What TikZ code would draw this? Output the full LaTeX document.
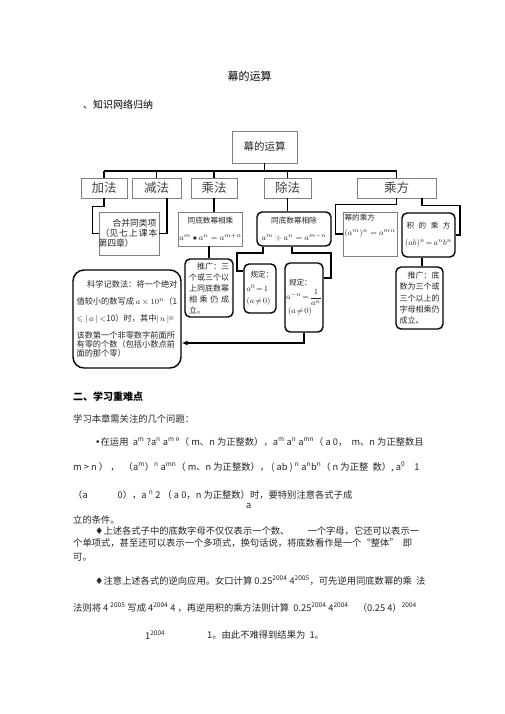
\documentclass[tikz,border=0pt]{standalone}
\usepackage{amsmath,amssymb}
\usepackage{fontspec}
\setmainfont{Noto Sans CJK SC}
\newfontfamily\sym{DejaVu Sans}
\usetikzlibrary{arrows.meta}
\newcommand\bxs{\fontsize{7.6}{9}\selectfont}
\newcommand\fml{\fontsize{8.5}{10.5}\selectfont}
\newcommand\fms{\fontsize{8}{10}\selectfont}
\begin{document}
\begin{tikzpicture}[x=1pt,y=-1pt,
  gbox/.style={draw=black!50, line width=0.8pt, inner sep=1pt, text=black!85},
  rbox/.style={draw=black, line width=1.4pt, rounded corners=5pt, inner sep=1pt, text=black!85},
  lvl/.style={draw=black!50, line width=0.8pt, minimum height=20pt, inner sep=0pt, font=\fontsize{12.5}{14}\selectfont, text=black!75},
  conn/.style={draw=black, line width=1.7pt},
  body/.style={anchor=west, inner sep=0pt, font=\fontsize{9.3}{11}\selectfont, text=black!85},
]
\useasboundingbox[fill=white] (0,0) rectangle (505,714);

% headings
\node[inner sep=0pt, font=\fontsize{11}{13}\selectfont] (title) at (249.5,76) {幕的运算};
\node[anchor=west, inner sep=0pt, font=\fontsize{10}{12}\selectfont] (sec1) at (83,105) {、知识网络归纳};

% top
\node[gbox, minimum width=65pt, minimum height=32pt, font=\fontsize{10.5}{12}\selectfont] (top) at (264.5,147) {幕的运算};

% level 2
\node[lvl, minimum width=46pt] (jiafa) at (104,188) {加法};
\node[lvl, minimum width=49pt] (jianfa) at (156.5,188) {减法};
\node[lvl, minimum width=46pt] (chengfa) at (214,188) {乘法};
\node[lvl, minimum width=47pt] (chufa) at (287.5,188) {除法};
\node[lvl, minimum width=79pt] (chengfang) at (396.5,188) {乘方};

% bus
\coordinate (busy) at (0,171);
\draw[conn] (top.south) -- (top.south |- busy);
\draw[conn] (jiafa.north |- busy) -- (chengfang.north |- busy);
\foreach \n in {jiafa,jianfa,chengfa,chufa,chengfang}
  \draw[conn] (\n.north |- busy) -- (\n.north);

% level 3
\node[gbox, minimum width=60pt, minimum height=43pt, align=left, font=\fontsize{8.8}{10}\selectfont] (hebing) at (129,233.5)
  {\makebox[57pt][r]{合并同类项\hspace{1pt}}\\ \makebox[57pt]{（见\hfill 七\hfill 上\hfill 课\hfill 本}\\ \hspace*{-2pt}第四章）};
\node[gbox, minimum width=63pt, minimum height=34pt, align=center] (tongcheng) at (210.5,229)
  {{\bxs 同底数幂相乘}\\[5pt] {\fml $a^{m}\bullet a^{n}=a^{m+n}$}};
\node[rbox, minimum width=48pt, minimum height=58pt, align=left, font=\fontsize{8}{11}\selectfont] (tg1) at (209,288)
  {\makebox[40pt][r]{推广：三}\\ 个或三个以\\ 上同底数幂\\ \makebox[40pt]{相\hfill 乘\hfill 仍\hfill 成}\\ 立。};
\node[rbox, minimum width=74pt, minimum height=34pt, align=center] (tongchu) at (294,229)
  {{\bxs 同底数幂相除}\\[5pt] {\fml $a^{m}\div a^{n}=a^{m-n}$}};
\node[rbox, minimum width=32pt, minimum height=49pt, align=left] (gd1) at (260,288.5)
  {{\bxs\hspace*{4pt}规定：}\\[2pt] {\fml $a^{0}\!=\!1$}\\ {\fml $(a\!\neq\! 0)$}};
\node[rbox, minimum width=38pt, minimum height=69pt, align=left] (gd2) at (304,297.5)
  {{\bxs\hspace*{3pt}规定：}\\[2pt] {\fms $a^{-n}\!=\!\dfrac{1}{a^{n}}$}\\[2pt] {\fms\hspace*{2pt}$(a\!\neq\! 0)$}};
\node[rbox, rounded corners=11pt, minimum width=108pt, minimum height=98pt, align=left, font=\fontsize{8.2}{9.3}\selectfont] (kexue) at (127,319)
  {\hspace*{1.3em}科学记数法：将一个绝对\\[8pt]
   值较小的数写成 $a\times10^{n}$（1\\[8pt]
   $\leqslant|\,a\,|<$10）时，其中$|\,n\,|$=\\[7pt]
   该数第一个非零数字前面所\\
   有零的个数（包括小数点前\\
   面的那个零）};
\node[gbox, minimum width=54pt, minimum height=44pt, align=left] (mici) at (370,234)
  {{\bxs 幂的乘方}\\[3pt] {\fml $(a^{m})^{n}=a^{mn}$}\\[6pt]};
\node[rbox, minimum width=53pt, minimum height=44pt, align=center] (jici) at (428.5,235)
  {{\bxs\makebox[44pt]{积\hfill 的\hfill 乘\hfill 方}}\\[5pt] {\fml $(ab)^{n}\!=\!a^{n}b^{n}$}};
\node[rbox, minimum width=47pt, minimum height=62pt, align=left, font=\fontsize{8}{11.2}\selectfont] (tg2) at (419.5,298)
  {\makebox[40pt][r]{推广：底}\\ 数为三个或\\ 三个以上的\\ 字母相乘仍\\ 成立。};

% connectors level 2 -> 3
\draw[conn] (jiafa.south) -- ++(0,8) -| ([xshift=-6pt]hebing.west) -- (hebing.west);
\draw[conn] ([xshift=10.5pt]jianfa.south) |- (hebing.east);
\draw[conn] (chengfa.south) -- (chengfa.south |- tongcheng.north);
\draw[conn] (tg1.north |- tongcheng.south) -- (tg1.north);
\draw[conn] (chufa.south) -- (chufa.south |- tongchu.north);
\draw[conn] ([xshift=-31pt]tongchu.south) -- ++(0,6) -| ([xshift=-6pt,yshift=-8pt]gd1.north west) -- ([yshift=-8pt]gd1.north west);
\draw[conn] ([xshift=-2pt]tongchu.south) -- ++(0,6) -| ([xshift=7pt,yshift=-16pt]gd2.north east) -- ([yshift=-16pt]gd2.north east);
\draw[conn, -{Latex[length=6pt,width=5pt]}] (gd2.south) |- ([yshift=-24pt]kexue.east);
\draw[conn] (chengfang.south) -- ++(0,6) -| ([xshift=-7pt]mici.west) -- (mici.west);
\draw[conn] ([xshift=25.5pt]chengfang.south) -- ++(0,7) -| ([xshift=4pt]jici.east) -- (jici.east);
\draw[conn] ([xshift=-6.5pt]jici.south) -- ([xshift=-6.5pt]jici.south |- tg2.north);

% body text
\node[anchor=west, inner sep=0pt, font=\bfseries\fontsize{10}{12}\selectfont] (sec2) at (73,397) {二、学习重难点};
\node[body] (intro) at (73,419) {学习本章需关注的几个问题：};
\node[body] (t1) at (95,442) {{\sym •}在运用 \ a\textsuperscript{m} ?a\textsuperscript{n} a\textsuperscript{m n}（ m、n 为正整数），a\textsuperscript{m} a\textsuperscript{n} a\textsuperscript{mn}（ a 0， \ m、n 为正整数且};
\node[body] (t2) at (73,467) {m > n ）\ ， \ （a\textsuperscript{m}）\textsuperscript{n} a\textsuperscript{mn}（ m、n 为正整数）， ( ab ) \textsuperscript{n} a\textsuperscript{n}b\textsuperscript{n}（ n 为正整 \ 数）, a\textsuperscript{0}\quad 1};
\node[body] (t3) at (73,495) {（a\hspace{30pt}0），a \textsuperscript{n} 2 （ a 0，n 为正整数）时，要特别注意各式子成};
\node[body] (t4) at (246,506) {a};
\node[body] (t5) at (73,520) {立的条件。};
\node[body] (t6) at (95,531) {{\sym ♦}上述各式子中的底数字母不仅仅表示一个数、\hspace{18pt}一个字母，它还可以表示一};
\node[body] (t7) at (73,543) {个单项式，甚至还可以表示一个多项式，换句话说，将底数看作是一个“整体” \ 即};
\node[body] (t8) at (73,557) {可。};
\node[body] (t9) at (95,581) {{\sym ♦}注意上述各式的逆向应用。女口计算 0.25\textsuperscript{2004} 4\textsuperscript{2005}，可先逆用同底数幂的乘 \ 法};
\node[body] (t10) at (73,608) {法则将 4 \textsuperscript{2005} 写成 4\textsuperscript{2004} 4 ，再逆用积的乘方法则计算 \ 0.25\textsuperscript{2004} 4\textsuperscript{2004}\quad（0.25 4）\textsuperscript{2004}};
\node[body] (t11) at (145,635) {1\textsuperscript{2004}};
\node[body] (t12) at (207,635) {1。由此不难得到结果为 \ 1。};
\end{tikzpicture}
\end{document}
